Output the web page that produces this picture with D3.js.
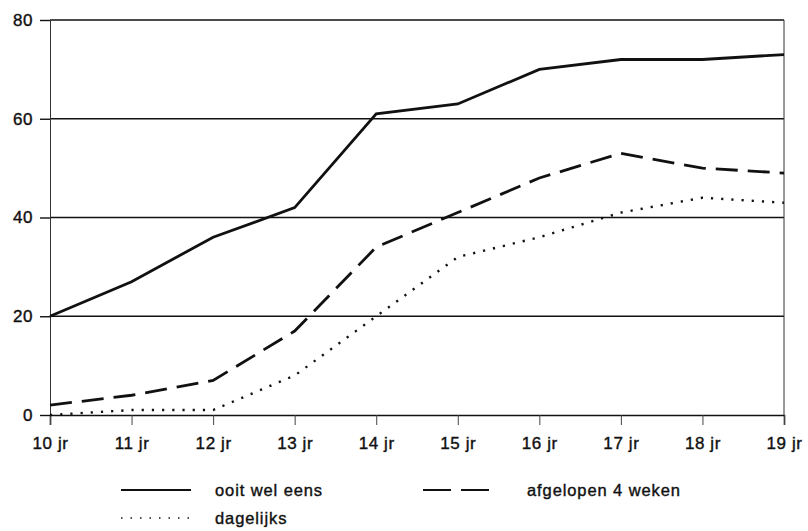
<!DOCTYPE html>
<html>
<head>
<meta charset="utf-8">
<script src="https://cdn.jsdelivr.net/npm/d3@7"></script>
<style>
body { margin:0; background:#fff; }
text { font-family: "Liberation Sans", Arial, sans-serif; fill:#111; }
</style>
</head>
<body>
<svg id="chart"></svg>
<script>
// data
var ages = ["10 jr","11 jr","12 jr","13 jr","14 jr","15 jr","16 jr","17 jr","18 jr","19 jr"];
var ooit = [20, 27, 36, 42, 61, 63, 70, 72, 72, 73];
var vier = [2, 4, 7, 17, 34, 41, 48, 53, 50, 49];
var dagelijks = [0, 1, 1, 8, 20, 32, 36, 41, 44, 43];
var yTicks = [0, 20, 40, 60, 80];

var series = [
  {name:"ooit wel eens", values:ooit, dash:null, width:2.8},
  {name:"afgelopen 4 weken", values:vier, dash:"22,10", width:2.8},
  {name:"dagelijks", values:dagelijks, dash:"2.2,8", width:2.4}
];

var screen = {width:808, height:531};
var margins = {top:20, left:50, right:24, bottom:116};
var width = screen.width - margins.left - margins.right;
var height = screen.height - margins.top - margins.bottom;

var svg = d3.select("#chart")
            .attr("width", screen.width)
            .attr("height", screen.height);

var xScale = d3.scalePoint()
               .domain(ages)
               .range([0, width]);
var yScale = d3.scaleLinear()
               .domain([0, 80])
               .range([height, 0]);

var plot = svg.append("g")
              .attr("transform", "translate(" + margins.left + "," + margins.top + ")");

// horizontal grid lines
plot.append("g")
    .selectAll("line")
    .data(yTicks.filter(function(d){ return d > 0; }))
    .enter()
    .append("line")
    .attr("x1", 0)
    .attr("x2", width)
    .attr("y1", function(d){ return yScale(d); })
    .attr("y2", function(d){ return yScale(d); })
    .attr("stroke", "#111")
    .attr("stroke-width", 1.6);

// right frame
plot.append("line")
    .attr("x1", width).attr("x2", width)
    .attr("y1", 0).attr("y2", height)
    .attr("stroke", "#333")
    .attr("stroke-width", 1);

var xAxis = d3.axisBottom(xScale).tickSize(10).tickPadding(12);
var yAxis = d3.axisLeft(yScale).tickValues(yTicks).tickSize(10).tickPadding(7);

var gx = plot.append("g")
    .attr("transform", "translate(0," + height + ")")
    .call(xAxis);
var gy = plot.append("g").call(yAxis);

gx.select(".domain").attr("stroke", "#111").attr("stroke-width", 1.6);
gy.select(".domain").attr("stroke", "#333").attr("stroke-width", 1);
gx.selectAll(".tick line").attr("stroke", "#444").attr("stroke-width", 1);
gy.selectAll(".tick line").attr("stroke", "#111").attr("stroke-width", 1.4);
svg.selectAll(".tick text")
   .style("font-family", "'Liberation Sans', Arial, sans-serif")
   .style("font-size", "17px")
   .style("letter-spacing", "0.6px")
   .attr("fill", "#111")
   .attr("stroke", "#111")
   .attr("stroke-width", 0.4);

var line = d3.line()
             .x(function(d, i){ return xScale(ages[i]); })
             .y(function(d){ return yScale(d); });

plot.selectAll("path.series")
    .data(series)
    .enter()
    .append("path")
    .classed("series", true)
    .attr("d", function(d){ return line(d.values); })
    .attr("fill", "none")
    .attr("stroke", "#111")
    .attr("stroke-width", function(d){ return d.width; })
    .attr("stroke-dasharray", function(d){ return d.dash; });

// legend
var legendPos = [[121, 490], [423, 490], [121, 518]];
var legend = svg.append("g").classed("legend", true);
var items = legend.selectAll("g")
    .data(series)
    .enter()
    .append("g")
    .attr("transform", function(d, i){ return "translate(" + legendPos[i][0] + "," + legendPos[i][1] + ")"; });
items.append("line")
     .attr("x1", 0).attr("x2", 70)
     .attr("y1", 0).attr("y2", 0)
     .attr("stroke", "#111")
     .attr("stroke-width", function(d, i){ return i == 2 ? 1.4 : 1.8; })
     .attr("stroke-dasharray", function(d, i){ return i == 1 ? "28,10" : (i == 2 ? "1.5,8" : null); });
items.append("text")
     .attr("x", function(d, i){ return i == 1 ? 104 : 94; })
     .attr("y", 6)
     .style("font-size", "16.5px")
     .style("letter-spacing", "0.9px")
     .attr("stroke", "#111")
     .attr("stroke-width", 0.4)
     .text(function(d){ return d.name; });
</script>
</body>
</html>
